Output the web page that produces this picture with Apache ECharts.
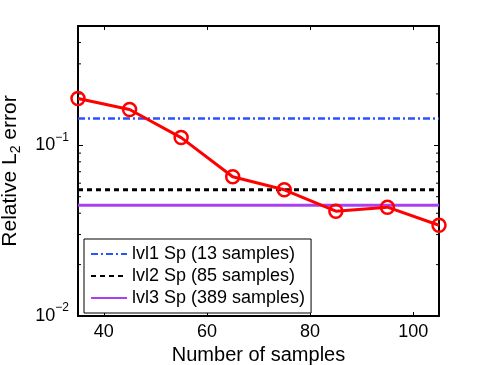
<!DOCTYPE html>
<html>
<head>
<meta charset="utf-8">
<script src="https://cdn.jsdelivr.net/npm/echarts@6/dist/echarts.min.js"></script>
<style>
  html, body { margin: 0; padding: 0; background: #fff; }
  #chart { width: 485px; height: 365px; }
</style>
</head>
<body>
<div id="chart"></div>
<script>
// data
var samples = [35, 45, 55, 65, 75, 85, 95, 105];
var sgError = [0.188, 0.162, 0.111, 0.0654, 0.0549, 0.0411, 0.0434, 0.034];
var lvlNames = ['lvl1 Sp (13 samples)', 'lvl2 Sp (85 samples)', 'lvl3 Sp (389 samples)'];
var lvlError = [0.1436, 0.0549, 0.0446];
var xTicks = [40, 60, 80, 100];
var yMinorTicks = [0.02, 0.03, 0.04, 0.05, 0.06, 0.07, 0.08, 0.09, 0.2, 0.3, 0.4];

var font = 'Liberation Sans, Arial, Helvetica, sans-serif';
var chart = echarts.init(document.getElementById('chart'));

// styles for the three flat lines
var lvlStyle = [
  { color: '#2a52ff', width: 2.5, type: [7, 3, 2, 3] },
  { color: '#000000', width: 3, type: [5, 4] },
  { color: '#aa40f2', width: 3, type: 'solid' }
];

var series = [];
for (var i = 0; i < lvlNames.length; i++) {
  series.push({
    name: lvlNames[i],
    type: 'line',
    symbol: 'none',
    silent: true,
    lineStyle: lvlStyle[i],
    itemStyle: { color: lvlStyle[i].color },
    data: [[samples[0], lvlError[i]], [samples[samples.length - 1], lvlError[i]]],
    z: 2
  });
}

// red curve with hollow circles
series.push({
  name: 'sg',
  type: 'line',
  symbol: 'circle',
  symbolSize: 13,
  showAllSymbol: true,
  clip: false,
  lineStyle: { color: '#ff0000', width: 3 },
  itemStyle: { color: 'rgba(0,0,0,0)', borderColor: '#ff0000', borderWidth: 2.5 },
  data: samples.map(function (x, k) { return [x, sgError[k]]; }),
  z: 5
});

// minor ticks of the log axis (left and right side)
series.push({
  type: 'custom',
  silent: true,
  clip: false,
  encode: { x: 0, y: 1 },
  data: yMinorTicks.map(function (v) { return [samples[0], v]; }),
  renderItem: function (params, api) {
    var v = api.value(1);
    var l = api.coord([35, v]);
    var r = api.coord([105, v]);
    return {
      type: 'group',
      children: [
        { type: 'line', shape: { x1: l[0], y1: l[1], x2: l[0] + 3, y2: l[1] }, style: { stroke: '#000', lineWidth: 1 } },
        { type: 'line', shape: { x1: r[0], y1: r[1], x2: r[0] - 3, y2: r[1] }, style: { stroke: '#000', lineWidth: 1 } }
      ]
    };
  },
  z: 3
});

function powLabel(v) {
  var e = Math.round(Math.log10(v));
  if (Math.abs(Math.log10(v) - e) > 1e-6) return '';
  return '{b|10}{s|\u2212' + Math.abs(e) + '}';
}

var boxLine = { show: true, lineStyle: { color: '#000', width: 2 } };

option = {
  animation: false,
  backgroundColor: '#fff',
  grid: { left: 78, right: 46, top: 26, bottom: 49, containLabel: false, outerBoundsMode: 'none' },
  legend: {
    data: lvlNames,
    orient: 'vertical',
    left: 84,
    top: 239,
    itemWidth: 36,
    itemHeight: 14,
    itemGap: 4,
    padding: [6, 6, 6, 6],
    borderColor: '#000',
    borderWidth: 1,
    borderRadius: 0,
    backgroundColor: '#fff',
    itemStyle: { opacity: 0 },
    textStyle: { fontSize: 18, fontFamily: font, color: '#000' },
    selectedMode: false
  },
  xAxis: [
    {
      type: 'value',
      min: 35,
      max: 105,
      position: 'bottom',
      axisLine: boxLine,
      axisTick: { inside: true, length: 4, customValues: xTicks, lineStyle: { color: '#000', width: 1 } },
      axisLabel: { customValues: xTicks, fontSize: 18, fontFamily: font, color: '#000', margin: 7 },
      splitLine: { show: false },
      name: 'Number of samples',
      nameLocation: 'middle',
      nameGap: 24,
      nameTextStyle: { fontSize: 20, fontFamily: font, color: '#000' }
    },
    {
      type: 'value',
      min: 35,
      max: 105,
      position: 'top',
      axisLine: boxLine,
      axisTick: { inside: true, length: 4, customValues: xTicks, lineStyle: { color: '#000', width: 1 } },
      axisLabel: { show: false },
      splitLine: { show: false }
    }
  ],
  yAxis: [
    {
      type: 'log',
      logBase: 10,
      min: 0.01,
      max: 0.5,
      position: 'left',
      axisLine: boxLine,
      axisTick: { inside: true, length: 5, lineStyle: { color: '#000', width: 1 } },
      axisLabel: {
        formatter: powLabel,
        margin: 9,
        color: '#000',
        rich: {
          b: { fontSize: 18, fontFamily: font, color: '#000' },
          s: { fontSize: 12, fontFamily: font, color: '#000', padding: [0, 0, 16, 0] }
        }
      },
      splitLine: { show: false },
      name: '{t|Relative L}{u|2}{t| error}',
      nameLocation: 'middle',
      nameGap: 55,
      nameRotate: 90,
      nameTextStyle: {
        rich: {
          t: { fontSize: 21, fontFamily: font, color: '#000' },
          u: { fontSize: 14, fontFamily: font, color: '#000', padding: [12, 0, 0, 0] }
        }
      }
    },
    {
      type: 'log',
      logBase: 10,
      min: 0.01,
      max: 0.5,
      position: 'right',
      axisLine: boxLine,
      axisTick: { inside: true, length: 5, lineStyle: { color: '#000', width: 1 } },
      axisLabel: { show: false },
      splitLine: { show: false }
    }
  ],
  series: series
};

chart.setOption(option);
</script>
</body>
</html>
